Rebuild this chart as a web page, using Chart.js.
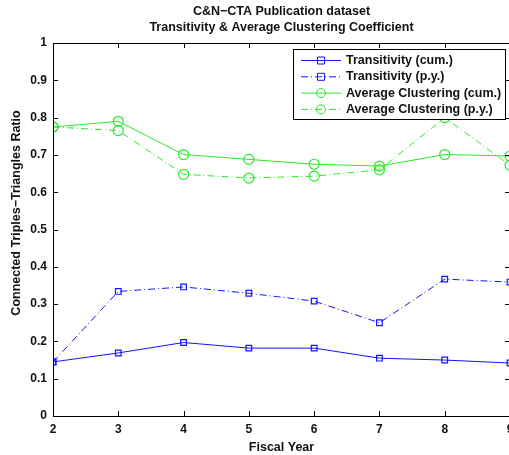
<!DOCTYPE html>
<html>
<head>
<meta charset="utf-8">
<script src="https://cdn.jsdelivr.net/npm/chart.js@4"></script>
<style>
  html, body { margin: 0; padding: 0; background: #fff; overflow: hidden; }
  #wrap { width: 509px; height: 455px; overflow: hidden; }
  #wrap div { width: 520px; height: 455px; }
</style>
</head>
<body>
<div id="wrap"><div><canvas id="myChart" width="520" height="455"></canvas></div></div>
<script>
// fiscal years on the x axis
const years = [2, 3, 4, 5, 6, 7, 8, 9];

const transCum = [0.145, 0.169, 0.197, 0.182, 0.182, 0.155, 0.150, 0.142];
const transPy = [0.145, 0.334, 0.346, 0.329, 0.308, 0.250, 0.367, 0.359];
const clustCum = [0.775, 0.790, 0.701, 0.688, 0.675, 0.670, 0.701, 0.697];
const clustPy = [0.775, 0.765, 0.648, 0.638, 0.643, 0.660, 0.800, 0.672];

const titleLines = ['C&N\u2212CTA Publication dataset', 'Transitivity & Average Clustering Coefficient'];
const yTitle = 'Connected Triples\u2212Triangles Ratio';

const blue = 'rgb(20,20,255)';
const green = 'rgb(40,235,40)';
const dashDot = [7, 3, 1, 3];
const fontFam = '"Liberation Sans", Arial, sans-serif';

let series = (label, values, color, style, dash) => ({
    label: label,
    data: years.map((y, i) => ({ x: y, y: values[i] })),
    borderColor: color,
    backgroundColor: 'rgba(0,0,0,0)',
    borderWidth: 1,
    borderDash: dash,
    pointStyle: style,
    pointRadius: style === 'rect' ? 4 : 5,
    pointBorderWidth: 1.2,
    pointBorderColor: color,
    pointBackgroundColor: 'rgba(0,0,0,0)',
    tension: 0
});

// box, inward ticks, titles and legend drawn matlab-like
const matlabBox = {
    id: 'matlabBox',
    afterDraw(chart) {
        const ctx = chart.ctx;
        const a = chart.chartArea;
        const xs = chart.scales.x, ys = chart.scales.y;
        ctx.save();
        ctx.strokeStyle = '#000';
        ctx.lineWidth = 1;
        ctx.strokeRect(Math.round(a.left) + 0.5, Math.round(a.top) + 0.5, a.right - a.left, a.bottom - a.top);
        ctx.beginPath();
        xs.ticks.forEach(t => {
            const px = Math.round(xs.getPixelForValue(t.value)) + 0.5;
            ctx.moveTo(px, a.bottom); ctx.lineTo(px, a.bottom - 5);
            ctx.moveTo(px, a.top); ctx.lineTo(px, a.top + 5);
        });
        ys.ticks.forEach(t => {
            const py = Math.round(ys.getPixelForValue(t.value)) + 0.5;
            ctx.moveTo(a.left, py); ctx.lineTo(a.left + 5, py);
            ctx.moveTo(a.right, py); ctx.lineTo(a.right - 5, py);
        });
        ctx.stroke();

        // title
        ctx.fillStyle = '#111';
        ctx.font = 'bold 12.5px ' + fontFam;
        ctx.textAlign = 'center';
        ctx.textBaseline = 'middle';
        const cx = (a.left + a.right) / 2;
        ctx.fillText(titleLines[0], cx, 12);
        ctx.fillText(titleLines[1], cx, 28);

        // y axis title
        ctx.save();
        ctx.translate(17, 213);
        ctx.rotate(-Math.PI / 2);
        ctx.font = 'bold 12.5px ' + fontFam;
        ctx.fillText(yTitle, 0, 0);
        ctx.restore();

        // legend
        const lx = 293, ly = 49, lw = 212, lh = 70;
        ctx.fillStyle = '#fff';
        ctx.fillRect(lx, ly, lw, lh);
        ctx.strokeRect(lx + 0.5, ly + 0.5, lw, lh);
        ctx.textAlign = 'left';
        ctx.font = 'bold 12.5px ' + fontFam;
        chart.data.datasets.forEach((ds, i) => {
            const y = ly + 11.5 + i * 16.3;
            ctx.strokeStyle = ds.borderColor;
            ctx.lineWidth = 1;
            ctx.setLineDash(ds.borderDash || []);
            ctx.beginPath();
            ctx.moveTo(lx + 8, y); ctx.lineTo(lx + 48, y);
            ctx.stroke();
            ctx.setLineDash([]);
            ctx.beginPath();
            if (ds.pointStyle === 'rect') {
                ctx.rect(lx + 24.5, y - 3.5, 7, 7);
            } else {
                ctx.arc(lx + 28, y, 4.5, 0, Math.PI * 2);
            }
            ctx.stroke();
            ctx.fillStyle = '#111';
            ctx.fillText(ds.label, lx + 53, y);
        });
        ctx.restore();
    }
};

const config = {
    type: 'line',
    data: {
        datasets: [
            series('Transitivity (cum.)', transCum, blue, 'rect', []),
            series('Transitivity (p.y.)', transPy, blue, 'rect', dashDot),
            series('Average Clustering (cum.)', clustCum, green, 'circle', []),
            series('Average Clustering (p.y.)', clustPy, green, 'circle', dashDot)
        ]
    },
    options: {
        responsive: false,
        animation: false,
        layout: { padding: { top: 43, right: 10, left: 0, bottom: 0 } },
        plugins: {
            legend: { display: false },
            title: { display: false },
            tooltip: { enabled: false }
        },
        scales: {
            x: {
                type: 'linear',
                min: 2,
                max: 9,
                grid: { display: false, drawTicks: false },
                border: { display: false },
                ticks: {
                    stepSize: 1,
                    color: '#111',
                    padding: 6,
                    font: { family: fontFam, size: 12, weight: 'bold' }
                },
                title: {
                    display: true,
                    text: 'Fiscal Year',
                    color: '#111',
                    padding: { top: 1, bottom: 0 },
                    font: { family: fontFam, size: 12.5, weight: 'bold' }
                },
                afterFit: (s) => { s.height = 39; }
            },
            y: {
                min: 0,
                max: 1,
                grid: { display: false, drawTicks: false },
                border: { display: false },
                ticks: {
                    stepSize: 0.1,
                    color: '#111',
                    padding: 6,
                    callback: (v) => String(Math.round(v * 10) / 10),
                    font: { family: fontFam, size: 12, weight: 'bold' }
                },
                afterFit: (s) => { s.width = 53; }
            }
        }
    },
    plugins: [matlabBox]
};

const myChart = new Chart(document.getElementById('myChart'), config);
</script>
</body>
</html>
